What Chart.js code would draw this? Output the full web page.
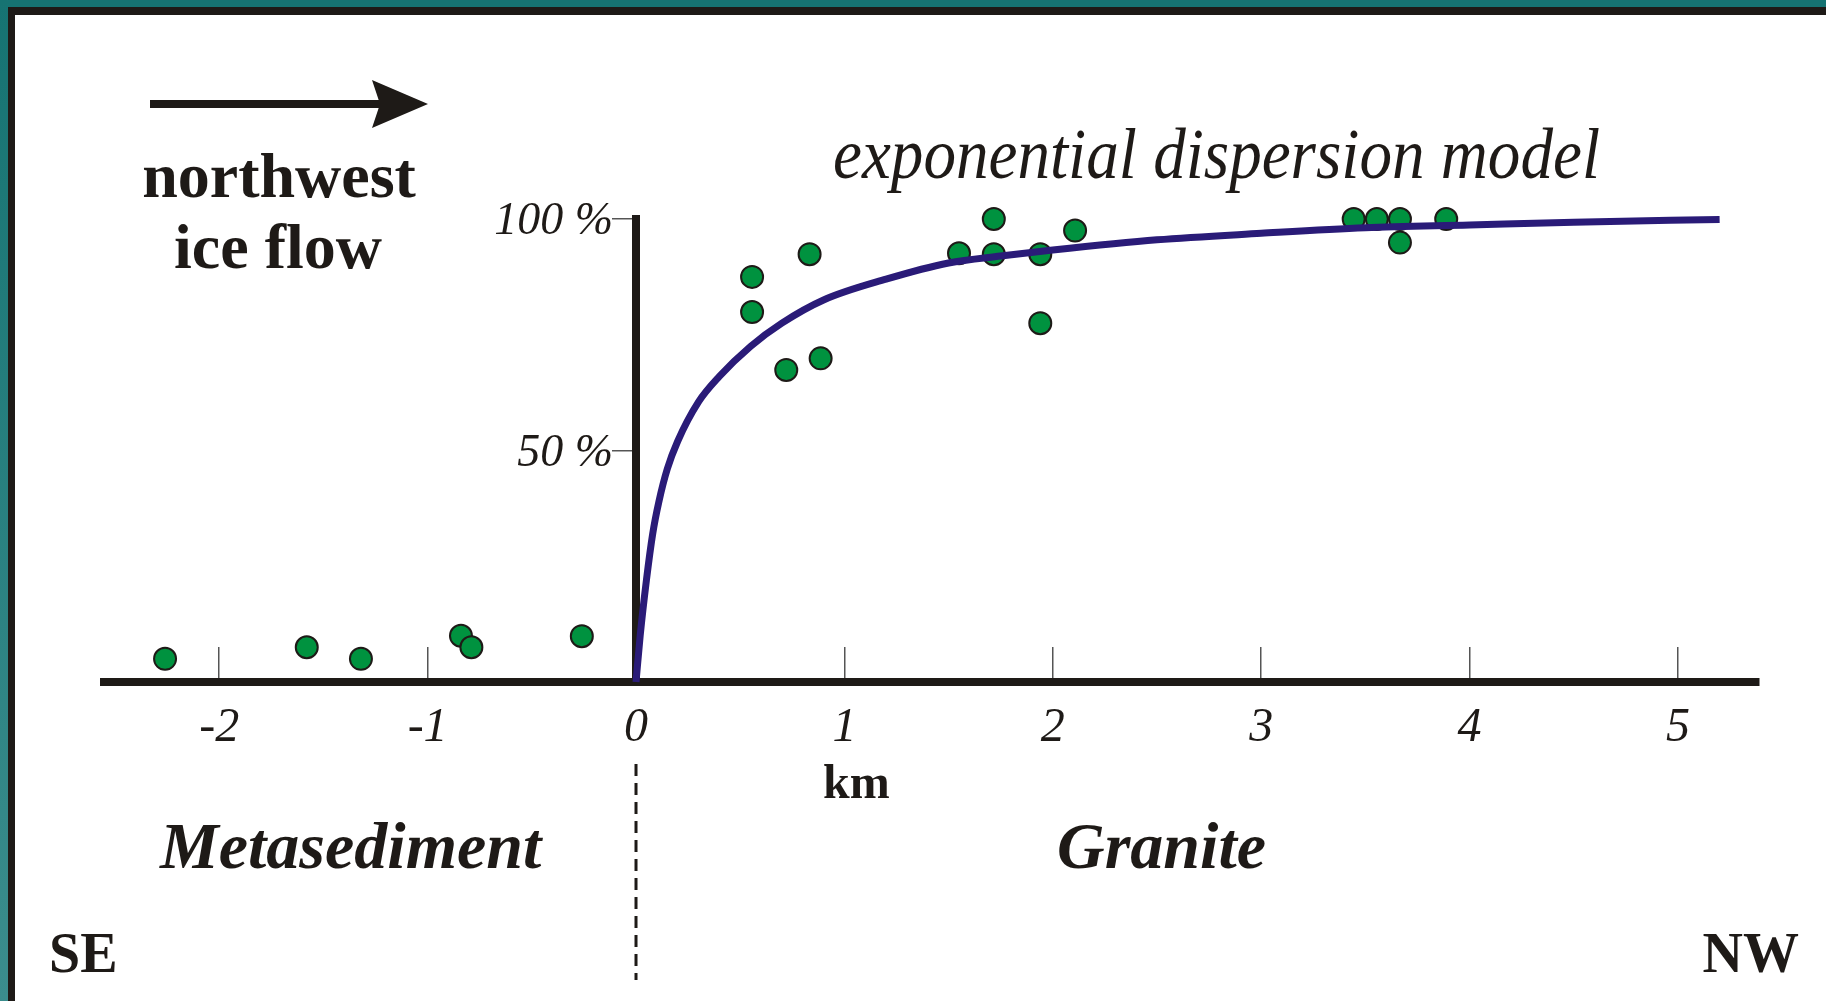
<!DOCTYPE html>
<html>
<head>
<meta charset="utf-8">
<script src="https://cdn.jsdelivr.net/npm/chart.js@4/dist/chart.umd.min.js"></script>
<style>
  html, body { margin: 0; padding: 0; background: #fff; }
  #wrap { position: relative; width: 1826px; height: 1001px; overflow: hidden; background: #fff; }
  #wrap canvas, #wrap svg { position: absolute; left: 0; top: 0; }
  .teal-top { position: absolute; left: 0; top: 0; width: 1826px; height: 7px; background: #167372; }
  .teal-left { position: absolute; left: 0; top: 0; width: 8px; height: 1001px; background: linear-gradient(#167372, #3b8d8d); }
  .black-top { position: absolute; left: 8px; top: 7px; width: 1818px; height: 8px; background: #1e1a17; }
  .black-left { position: absolute; left: 8px; top: 7px; width: 7px; height: 994px; background: #1e1a17; }
</style>
</head>
<body>
<div id="wrap">
  <canvas id="chart" width="1826" height="1001"></canvas>
  <svg width="1826" height="1001" font-family="Liberation Serif, Times New Roman, serif" fill="#1e1a17">
    <!-- flecha de flujo de hielo -->
    <line x1="150" y1="104" x2="382" y2="104" stroke="#1e1a17" stroke-width="8"/>
    <polygon points="428,104 372,80 380,104 372,128" fill="#1e1a17"/>
    <text x="279" y="197" font-size="64" font-weight="bold" text-anchor="middle">northwest</text>
    <text x="278" y="268" font-size="64" font-weight="bold" text-anchor="middle">ice flow</text>
    <text x="833" y="178" font-size="72" font-style="italic" textLength="767" lengthAdjust="spacingAndGlyphs">exponential dispersion model</text>
    <text x="823" y="798" font-size="48" font-weight="bold">km</text>
    <text x="160" y="868" font-size="66" font-weight="bold" font-style="italic">Metasediment</text>
    <text x="1057" y="868" font-size="66" font-weight="bold" font-style="italic">Granite</text>
    <text x="49" y="972" font-size="56" font-weight="bold">SE</text>
    <text x="1799" y="972" font-size="56" font-weight="bold" text-anchor="end">NW</text>
  </svg>
  <div class="teal-top"></div>
  <div class="teal-left"></div>
  <div class="black-top"></div>
  <div class="black-left"></div>
</div>
<script>
// --- Datos ---
// distancia (km) y porcentaje de las muestras
const sampleKm  = [-2.26, -1.58, -1.32, -0.84, -0.79, -0.26,
                   0.557, 0.557, 0.833, 0.721, 0.886, 1.55, 1.717, 1.717, 1.94, 1.94, 2.107,
                   3.444, 3.555, 3.666, 3.666, 3.888];
const samplePct = [5.0, 7.5, 5.0, 10.0, 7.5, 9.9,
                   87.5, 79.9, 92.4, 67.4, 69.9, 92.6, 100, 92.4, 92.4, 77.5, 97.5,
                   100, 100, 100, 94.9, 100];

// curva del modelo de dispersión exponencial
const modelKm  = [0, 0.02, 0.05, 0.08, 0.11, 0.15, 0.2, 0.3, 0.4, 0.55, 0.7, 0.9, 1.2, 1.5, 1.75, 2.0, 2.5, 3.0, 3.5, 4.0, 4.5, 5.2];
const modelPct = [0, 10, 22, 32, 39, 46, 52, 60.5, 66, 72.5, 77.5, 82.5, 87, 90.5, 92, 93.3, 95.5, 96.9, 98.1, 98.7, 99.3, 99.9];

// marcas de los ejes
const xTicks = [-2, -1, 0, 1, 2, 3, 4, 5];
const yTicks = [50, 100];
const yTickLabels = ['50 %', '100 %'];

const ink = '#1e1a17';

// línea discontinua del contacto litológico en x = 0
const contactLine = {
  id: 'contactLine',
  afterDraw(chart) {
    const ctx = chart.ctx;
    const x = chart.scales.x.getPixelForValue(0);
    ctx.save();
    ctx.strokeStyle = ink;
    ctx.lineWidth = 3;
    ctx.setLineDash([12, 7]);
    ctx.beginPath();
    ctx.moveTo(x, 764);
    ctx.lineTo(x, 980);
    ctx.stroke();
    ctx.restore();
  }
};

new Chart(document.getElementById('chart').getContext('2d'), {
  data: {
    datasets: [{
      type: 'line',
      data: modelKm.map((x, i) => ({ x: x, y: modelPct[i] })),
      borderColor: '#2a1b78',
      borderWidth: 7,
      pointRadius: 0,
      cubicInterpolationMode: 'monotone',
      clip: false
    }, {
      type: 'scatter',
      data: sampleKm.map((x, i) => ({ x: x, y: samplePct[i] })),
      backgroundColor: '#00923f',
      borderColor: ink,
      borderWidth: 2,
      pointRadius: 11,
      clip: false
    }]
  },
  options: {
    responsive: false,
    animation: false,
    devicePixelRatio: 1,
    layout: { padding: { top: 219, left: 104, right: 67, bottom: 219 } },
    plugins: { legend: { display: false }, tooltip: { enabled: false } },
    scales: {
      x: {
        type: 'linear',
        position: 'bottom',
        min: -2.553,
        max: 5.389,
        afterBuildTicks: scale => { scale.ticks = xTicks.map(v => ({ value: v })); },
        afterFit: scale => { scale.height = 100; },
        border: { color: ink, width: 8 },
        grid: { drawOnChartArea: false, tickLength: -35, color: '#555', lineWidth: 1.5 },
        ticks: {
          color: ink,
          padding: 53,
          font: { family: 'Liberation Serif', size: 48, style: 'italic' },
          callback: v => String(v)
        }
      },
      y: {
        type: 'linear',
        position: { x: 0 },
        min: 0,
        max: 100,
        afterBuildTicks: scale => { scale.ticks = yTicks.map(v => ({ value: v })); },
        border: { color: ink, width: 8 },
        grid: { drawOnChartArea: false, tickLength: 20, color: '#555', lineWidth: 1.5 },
        ticks: {
          color: ink,
          labelOffset: 3,
          font: { family: 'Liberation Serif', size: 46, style: 'italic' },
          callback: v => yTickLabels[yTicks.indexOf(v)] + '\u2002'
        }
      }
    }
  },
  plugins: [contactLine]
});
</script>
</body>
</html>
